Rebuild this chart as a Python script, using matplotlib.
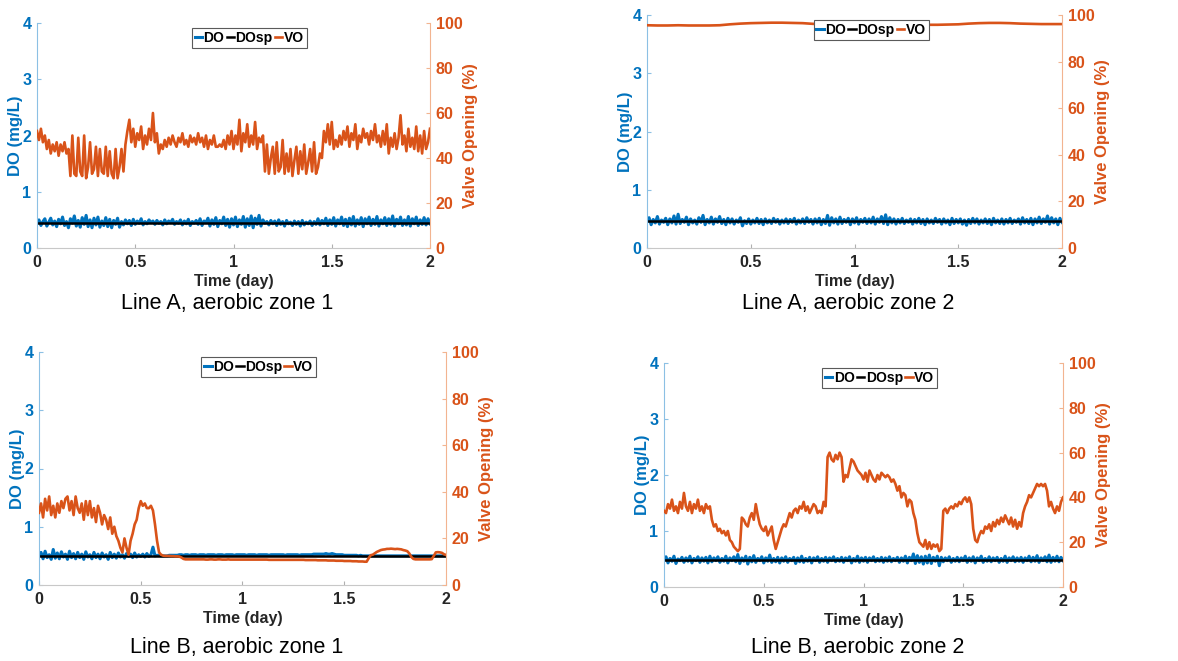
import numpy as np
import matplotlib
matplotlib.use("Agg")
import matplotlib.pyplot as plt
from matplotlib.ticker import FormatStrFormatter
from matplotlib import font_manager

plt.rcParams['font.family'] = ['Liberation Sans', 'DejaVu Sans']

# ---- data ----
# valve opening (%), sampled every 0.01 day unless noted
vo_a1 = [52, 48, 53, 47, 50, 44, 48, 42, 46, 43,
         47, 41, 46, 43, 47, 42, 44, 32, 50, 33,
         32, 49, 34, 32, 50, 31, 36, 47, 33, 35,
         45, 32, 44, 34, 33, 45, 32, 43, 33, 31,
         44, 31, 36, 44, 34, 46, 52, 57, 47, 53,
         45, 51, 48, 54, 44, 50, 46, 53, 48, 60,
         47, 51, 42, 46, 44, 48, 45, 49, 46, 50,
         47, 45, 49, 47, 51, 46, 48, 45, 50, 47,
         49, 46, 51, 47, 49, 45, 50, 44, 48, 46,
         50, 45, 45, 46, 45, 48, 44, 50, 46, 52,
         44, 50, 46, 57, 43, 51, 47, 55, 45, 50,
         46, 56, 44, 49, 47, 50, 34, 46, 33, 40,
         45, 33, 47, 34, 36, 48, 33, 42, 34, 44,
         32, 39, 45, 33, 43, 35, 46, 33, 38, 44,
         34, 47, 33, 36, 42, 40, 52, 47, 55, 46,
         56, 44, 48, 45, 50, 46, 52, 48, 54, 45,
         51, 48, 55, 44, 50, 47, 53, 49, 51, 46,
         52, 48, 55, 47, 50, 45, 52, 46, 55, 42,
         49, 45, 51, 44, 49, 59, 46, 50, 43, 53,
         45, 49, 44, 54, 43, 50, 42, 52, 44, 47,
         53]

# every 0.05 day
vo_a2 = [95.6, 95.5, 95.5, 95.6, 95.5, 95.5, 95.5, 95.6, 96.0, 96.3,
         96.5, 96.6, 96.7, 96.7, 96.6, 96.5, 96.2, 96.0, 95.9, 95.8,
         95.8, 95.8, 95.8, 95.8, 95.8, 95.8, 95.8, 95.8, 95.8, 95.9,
         96.0, 96.3, 96.5, 96.6, 96.6, 96.5, 96.3, 96.2, 96.1, 96.1,
         96.1]

vo_b1 = [31, 35, 29, 37, 32, 38, 30, 34, 29, 35,
         31, 36, 33, 37, 38, 32, 36, 30, 38, 33,
         31, 35, 28, 36, 30, 36, 29, 33, 27, 34,
         31, 26, 30, 28, 24, 29, 22, 25, 21, 19,
         16, 14, 20, 16, 13, 19, 22, 26, 28, 33,
         36, 34, 35, 33, 33, 34, 32, 26, 19, 14,
         13, 12.6, 12.5, 12.5, 12.5, 12.4, 12.4, 12.3, 12.3, 12.2,
         11.8, 11.2, 11.0, 11.0, 11.0, 11.0, 11.0, 11.0, 11.0, 11.0,
         11.0, 11.0, 10.9, 10.9, 11.0, 11.0, 10.9, 10.9, 11.0, 11.0,
         10.9, 10.9, 10.9, 11.0, 10.9, 10.9, 10.9, 10.9, 10.9, 10.9,
         10.9, 10.9, 10.9, 10.9, 10.9, 10.9, 10.9, 10.9, 10.9, 10.9,
         10.9, 10.9, 10.9, 10.8, 10.8, 10.8, 10.8, 10.8, 10.8, 10.8,
         10.8, 10.8, 10.8, 10.8, 10.8, 10.8, 10.8, 10.8, 10.8, 10.8,
         10.8, 10.7, 10.7, 10.7, 10.7, 10.7, 10.7, 10.6, 10.6, 10.6,
         10.6, 10.6, 10.5, 10.5, 10.5, 10.5, 10.4, 10.4, 10.4, 10.4,
         10.3, 10.3, 10.3, 10.3, 10.2, 10.2, 10.2, 10.1, 10.1, 10.1,
         10.0, 10.0, 11.5, 12.8, 13.0, 13.6, 14.2, 14.6, 15.0, 15.2,
         15.3, 15.5, 15.5, 15.6, 15.5, 15.4, 15.5, 15.4, 15.3, 15.0,
         14.8, 14.5, 13.5, 12.0, 11.2, 11.0, 11.0, 11.0, 11.0, 11.0,
         11.0, 11.0, 11.0, 11.1, 12.5, 14.0, 14.1, 14.0, 13.8, 13.2,
         12.9]

vo_b2 = [34, 33, 37, 35, 39, 34, 36, 33, 38, 35,
         42, 36, 34, 38, 33, 37, 35, 39, 34, 36,
         33, 37, 35, 36, 30, 27, 28, 25, 26, 24,
         25, 23, 25, 21, 20, 18, 17, 16, 17, 31,
         30, 28, 27, 31, 33, 30, 37, 32, 28, 26,
         25, 27, 23, 25, 27, 21, 17, 20, 23, 26,
         28, 27, 30, 33, 31, 34, 35, 33, 36, 35,
         38, 34, 36, 33, 35, 37, 36, 33, 34, 33,
         38, 36, 58, 60, 57, 56, 59, 57, 60, 58,
         47, 50, 49, 53, 57, 56, 54, 52, 51, 50,
         48, 51, 47, 52, 50, 48, 47, 50, 48, 51,
         50, 49, 50, 49, 47, 48, 46, 43, 45, 40,
         42, 41, 36, 39, 38, 33, 30, 24, 20, 19,
         18, 21, 17, 20, 17, 19, 18, 19, 16, 17,
         34, 35, 33, 35, 36, 35, 37, 36, 38, 37,
         39, 40, 38, 40, 37, 26, 21, 20, 23, 25,
         24, 27, 26, 28, 25, 29, 27, 30, 28, 31,
         29, 32, 30, 28, 31, 27, 30, 26, 29, 27,
         33, 36, 38, 41, 40, 42, 44, 46, 45, 46,
         45, 46, 43, 36, 38, 35, 33, 36, 34, 38,
         40]

# dissolved oxygen (mg/L), every 0.01 day
do_a1 = [0.44, 0.50, 0.40, 0.47, 0.52, 0.39, 0.46, 0.53, 0.41, 0.48,
         0.38, 0.51, 0.43, 0.55, 0.40, 0.47, 0.36, 0.52, 0.44, 0.57,
         0.39, 0.49, 0.37, 0.54, 0.42, 0.58, 0.38, 0.50, 0.36, 0.53,
         0.41, 0.55, 0.37, 0.48, 0.40, 0.54, 0.38, 0.51, 0.36, 0.49,
         0.42, 0.53, 0.37, 0.47, 0.41, 0.50, 0.43, 0.49, 0.40, 0.51,
         0.42, 0.48, 0.44, 0.52, 0.41, 0.47, 0.43, 0.50, 0.45, 0.48,
         0.42, 0.49, 0.44, 0.47, 0.41, 0.50, 0.43, 0.48, 0.45, 0.51,
         0.42, 0.47, 0.44, 0.50, 0.41, 0.48, 0.43, 0.51, 0.40, 0.47,
         0.44, 0.49, 0.42, 0.52, 0.40, 0.48, 0.45, 0.53, 0.39, 0.50,
         0.42, 0.54, 0.38, 0.49, 0.43, 0.55, 0.40, 0.51, 0.37, 0.52,
         0.41, 0.55, 0.38, 0.50, 0.42, 0.56, 0.37, 0.52, 0.40, 0.57,
         0.36, 0.53, 0.42, 0.58, 0.39, 0.50, 0.44, 0.47, 0.41, 0.49,
         0.43, 0.48, 0.40, 0.50, 0.42, 0.47, 0.39, 0.49, 0.43, 0.46,
         0.40, 0.48, 0.42, 0.47, 0.39, 0.49, 0.41, 0.46, 0.43, 0.48,
         0.40, 0.47, 0.42, 0.52, 0.41, 0.49, 0.43, 0.53, 0.40, 0.50,
         0.42, 0.54, 0.39, 0.50, 0.43, 0.55, 0.40, 0.51, 0.38, 0.53,
         0.41, 0.56, 0.39, 0.50, 0.42, 0.54, 0.38, 0.52, 0.43, 0.55,
         0.40, 0.51, 0.42, 0.56, 0.39, 0.50, 0.43, 0.54, 0.40, 0.52,
         0.42, 0.57, 0.39, 0.51, 0.43, 0.55, 0.40, 0.50, 0.41, 0.56,
         0.39, 0.52, 0.43, 0.55, 0.40, 0.50, 0.42, 0.54, 0.41, 0.52,
         0.43]

do_a2 = [0.45, 0.52, 0.40, 0.49, 0.43, 0.54, 0.41, 0.48, 0.44, 0.51,
         0.40, 0.50, 0.43, 0.55, 0.41, 0.58, 0.42, 0.49, 0.44, 0.53,
         0.40, 0.50, 0.43, 0.48, 0.41, 0.52, 0.44, 0.56, 0.40, 0.49,
         0.43, 0.53, 0.41, 0.50, 0.44, 0.54, 0.42, 0.49, 0.40, 0.51,
         0.43, 0.50, 0.41, 0.48, 0.44, 0.52, 0.38, 0.47, 0.42, 0.50,
         0.41, 0.48, 0.43, 0.51, 0.42, 0.49, 0.40, 0.50, 0.43, 0.48,
         0.42, 0.51, 0.44, 0.49, 0.41, 0.48, 0.43, 0.50, 0.42, 0.49,
         0.44, 0.51, 0.41, 0.48, 0.43, 0.50, 0.42, 0.52, 0.44, 0.49,
         0.41, 0.50, 0.43, 0.51, 0.40, 0.49, 0.42, 0.56, 0.39, 0.52,
         0.43, 0.50, 0.41, 0.53, 0.42, 0.49, 0.44, 0.51, 0.40, 0.50,
         0.43, 0.52, 0.41, 0.49, 0.44, 0.51, 0.42, 0.50, 0.43, 0.53,
         0.41, 0.50, 0.44, 0.54, 0.42, 0.57, 0.40, 0.52, 0.43, 0.50,
         0.41, 0.49, 0.43, 0.51, 0.42, 0.48, 0.44, 0.50, 0.41, 0.49,
         0.43, 0.51, 0.42, 0.49, 0.40, 0.50, 0.43, 0.48, 0.42, 0.51,
         0.44, 0.49, 0.41, 0.50, 0.43, 0.48, 0.40, 0.51, 0.42, 0.49,
         0.43, 0.50, 0.41, 0.48, 0.39, 0.49, 0.42, 0.51, 0.43, 0.50,
         0.41, 0.48, 0.43, 0.50, 0.42, 0.49, 0.40, 0.51, 0.43, 0.48,
         0.42, 0.50, 0.41, 0.49, 0.43, 0.51, 0.42, 0.48, 0.44, 0.50,
         0.41, 0.52, 0.43, 0.49, 0.42, 0.51, 0.40, 0.50, 0.43, 0.53,
         0.42, 0.50, 0.44, 0.55, 0.41, 0.52, 0.43, 0.50, 0.40, 0.51,
         0.44]

do_b1 = [0.50, 0.56, 0.45, 0.58, 0.47, 0.52, 0.44, 0.61, 0.46, 0.55,
         0.45, 0.57, 0.48, 0.53, 0.44, 0.58, 0.47, 0.54, 0.45, 0.56,
         0.47, 0.53, 0.44, 0.57, 0.48, 0.52, 0.45, 0.56, 0.47, 0.53,
         0.45, 0.55, 0.48, 0.52, 0.44, 0.56, 0.47, 0.53, 0.46, 0.55,
         0.48, 0.52, 0.46, 0.54, 0.49, 0.53, 0.47, 0.55, 0.48, 0.52,
         0.49, 0.53, 0.48, 0.54, 0.49, 0.52, 0.65, 0.50, 0.51, 0.51,
         0.50, 0.50, 0.50, 0.50, 0.51, 0.51, 0.51, 0.51, 0.51, 0.52,
         0.52, 0.51, 0.52, 0.52, 0.51, 0.52, 0.52, 0.52, 0.51, 0.52,
         0.52, 0.52, 0.51, 0.52, 0.52, 0.52, 0.52, 0.51, 0.52, 0.52,
         0.52, 0.51, 0.52, 0.52, 0.52, 0.52, 0.51, 0.52, 0.52, 0.52,
         0.52, 0.52, 0.51, 0.52, 0.52, 0.52, 0.52, 0.51, 0.52, 0.52,
         0.52, 0.52, 0.52, 0.51, 0.52, 0.52, 0.52, 0.52, 0.52, 0.52,
         0.52, 0.51, 0.52, 0.52, 0.52, 0.52, 0.52, 0.52, 0.51, 0.52,
         0.52, 0.52, 0.52, 0.52, 0.52, 0.53, 0.53, 0.53, 0.53, 0.53,
         0.53, 0.54, 0.53, 0.53, 0.54, 0.53, 0.52, 0.52, 0.52, 0.52,
         0.51, 0.51, 0.51, 0.51, 0.51, 0.51, 0.51, 0.50, 0.51, 0.50,
         0.50, 0.50, 0.50, 0.50, 0.50, 0.50, 0.50, 0.50, 0.50, 0.50,
         0.50, 0.50, 0.50, 0.50, 0.50, 0.50, 0.50, 0.50, 0.50, 0.50,
         0.50, 0.50, 0.50, 0.50, 0.50, 0.50, 0.50, 0.50, 0.50, 0.50,
         0.50, 0.50, 0.50, 0.50, 0.50, 0.50, 0.50, 0.50, 0.50, 0.50,
         0.50]

do_b2 = [0.48, 0.54, 0.43, 0.51, 0.46, 0.55, 0.42, 0.50, 0.47, 0.53,
         0.44, 0.52, 0.46, 0.55, 0.43, 0.51, 0.47, 0.54, 0.44, 0.52,
         0.46, 0.53, 0.43, 0.55, 0.45, 0.52, 0.47, 0.54, 0.44, 0.51,
         0.46, 0.55, 0.43, 0.52, 0.47, 0.54, 0.45, 0.58, 0.42, 0.52,
         0.46, 0.55, 0.41, 0.53, 0.45, 0.56, 0.44, 0.51, 0.47, 0.54,
         0.43, 0.52, 0.46, 0.57, 0.44, 0.51, 0.45, 0.53, 0.43, 0.52,
         0.46, 0.54, 0.44, 0.51, 0.47, 0.53, 0.42, 0.52, 0.45, 0.55,
         0.44, 0.51, 0.46, 0.53, 0.43, 0.52, 0.47, 0.54, 0.44, 0.51,
         0.46, 0.53, 0.44, 0.52, 0.47, 0.54, 0.45, 0.51, 0.46, 0.53,
         0.44, 0.52, 0.47, 0.54, 0.43, 0.51, 0.46, 0.55, 0.44, 0.52,
         0.46, 0.53, 0.44, 0.52, 0.47, 0.54, 0.45, 0.51, 0.46, 0.53,
         0.44, 0.52, 0.46, 0.54, 0.45, 0.51, 0.47, 0.53, 0.44, 0.52,
         0.46, 0.55, 0.43, 0.53, 0.47, 0.59, 0.42, 0.56, 0.44, 0.54,
         0.41, 0.55, 0.43, 0.57, 0.42, 0.53, 0.46, 0.55, 0.38, 0.53,
         0.45, 0.52, 0.47, 0.54, 0.44, 0.51, 0.46, 0.53, 0.45, 0.52,
         0.47, 0.55, 0.44, 0.52, 0.46, 0.54, 0.43, 0.52, 0.47, 0.55,
         0.44, 0.51, 0.46, 0.54, 0.45, 0.52, 0.47, 0.53, 0.44, 0.51,
         0.46, 0.55, 0.44, 0.52, 0.47, 0.54, 0.45, 0.52, 0.46, 0.53,
         0.44, 0.52, 0.47, 0.55, 0.45, 0.53, 0.46, 0.56, 0.44, 0.52,
         0.47, 0.54, 0.45, 0.57, 0.44, 0.53, 0.46, 0.55, 0.45, 0.53,
         0.47]

# DO setpoints (mg/L)
dosp = [0.45, 0.46, 0.50, 0.49]

captions = ["Line A, aerobic zone 1", "Line A, aerobic zone 2",
            "Line B, aerobic zone 1", "Line B, aerobic zone 2"]

panels = [(do_a1, vo_a1), (do_a2, vo_a2), (do_b1, vo_b1), (do_b2, vo_b2)]

# ---- layout (pixel boxes: left, right, top, bottom) ----
W, H = 1178, 661
boxes = [(37, 430, 23, 248), (647, 1062, 15, 248),
         (39, 446, 352, 585), (664, 1063, 363, 587)]
cap_y = [303, 303, 647, 647]

BLUE = '#0072BD'
ORANGE = '#D95319'

# narrow font for the captions if one is around
names = {f.name for f in font_manager.fontManager.ttflist}
cap_family = 'Liberation Sans'
cap_size = 15.5
for cand in ['Liberation Sans Narrow', 'Arial Narrow', 'Nimbus Sans Narrow']:
    if cand in names:
        cap_family, cap_size = cand, 18
        break

fig = plt.figure(figsize=(W / 100, H / 100), dpi=100)

for i, (do, vo) in enumerate(panels):
    l, r, t, b = boxes[i]
    ax = fig.add_axes([l / W, 1 - b / H, (r - l) / W, (b - t) / H])
    ax2 = ax.twinx()

    t_do = np.linspace(0, 2, len(do))
    t_vo = np.linspace(0, 2, len(vo))
    h1, = ax.plot(t_do, do, color=BLUE, lw=2.2, label='DO')
    h2, = ax.plot(t_do[[0, -1]], [dosp[i], dosp[i]], color='black', lw=1.8, label='DOsp')
    h3, = ax2.plot(t_vo, vo, color=ORANGE, lw=1.9, label='VO')

    ax.set_xlim(0, 2)
    ax.set_ylim(0, 4)
    ax2.set_ylim(0, 100)
    ax.set_xticks([0, 0.5, 1, 1.5, 2])
    ax.xaxis.set_major_formatter(FormatStrFormatter('%g'))
    ax.set_yticks([0, 1, 2, 3, 4])
    ax2.set_yticks([0, 20, 40, 60, 80, 100])

    for s in ['top', 'right']:
        ax.spines[s].set_visible(False)
    for s in ['top', 'left', 'bottom']:
        ax2.spines[s].set_visible(False)
    ax.spines['left'].set_color('#8cc0e4')
    ax.spines['bottom'].set_color('#c8c8c8')
    ax2.spines['right'].set_color('#f2b490')

    ax.tick_params(axis='x', direction='in', length=3, color='#b0b0b0',
                   labelcolor='#262626', labelsize=11.5, pad=5)
    ax.tick_params(axis='y', direction='in', length=3, color='#8cc0e4',
                   labelcolor=BLUE, labelsize=11.5, pad=4)
    ax2.tick_params(axis='y', direction='in', length=3, color='#f2b490',
                    labelcolor=ORANGE, labelsize=11.5, pad=4)
    for lab in ax.get_xticklabels() + ax.get_yticklabels() + ax2.get_yticklabels():
        lab.set_fontweight('bold')

    ax.set_xlabel('Time (day)', fontsize=11.5, fontweight='bold', color='#262626', labelpad=3)
    ax.set_ylabel('DO (mg/L)', fontsize=12, fontweight='bold', color=BLUE)
    ax2.set_ylabel('Valve Opening (%)', fontsize=12, fontweight='bold', color=ORANGE)
    ax.yaxis.set_label_coords(-14 / (r - l), 0.5)
    ax2.yaxis.set_label_coords(1 + 33 / (r - l), 0.5)

    leg = ax2.legend(handles=[h1, h2, h3], loc='upper center',
                     bbox_to_anchor=(0.54, 1 - 5 / (b - t)), ncol=3,
                     handlelength=0.55, handletextpad=0.1, columnspacing=0.15,
                     borderpad=0.2, borderaxespad=0, fancybox=False,
                     framealpha=1, edgecolor='#5a5a5a',
                     prop={'weight': 'bold', 'size': 10})
    leg.get_frame().set_linewidth(0.8)

    fig.text(((l + r) / 2 - 6) / W, 1 - cap_y[i] / H, captions[i],
             ha='center', va='center', fontsize=cap_size, family=cap_family)

fig.savefig('out.png', dpi=100)
